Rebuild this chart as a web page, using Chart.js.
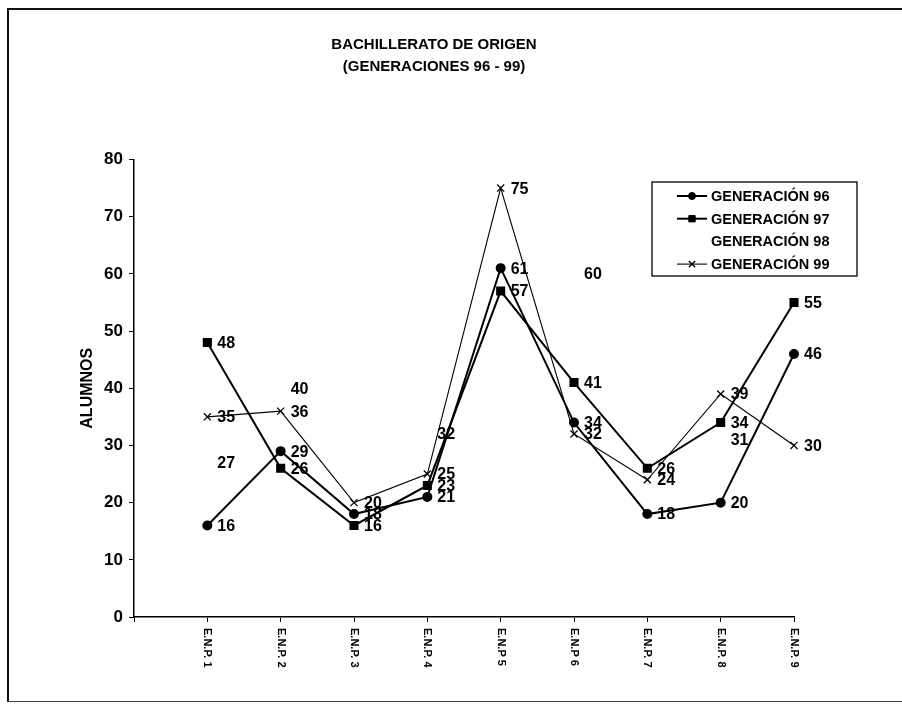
<!DOCTYPE html>
<html>
<head>
<meta charset="utf-8">
<script src="https://cdn.jsdelivr.net/npm/chart.js@4"></script>
<style>
  body { margin: 0; background: #fff; }
  #frame { position: absolute; left: 7px; top: 8px; width: 900px; height: 691px;
           border-left: 2px solid #111; border-top: 2px solid #111; border-bottom: 1px solid #444; }
  #c { position: absolute; left: 0; top: 0; }
</style>
</head>
<body>
<div id="frame"></div>
<canvas id="c" width="902" height="706"></canvas>
<script>
var categories = ['E.N.P. 1', 'E.N.P. 2', 'E.N.P. 3', 'E.N.P. 4', 'E.N.P 5', 'E.N.P 6', 'E.N.P. 7', 'E.N.P. 8', 'E.N.P. 9'];
var seriesNames = ['GENERACIÓN 96', 'GENERACIÓN 97', 'GENERACIÓN 98', 'GENERACIÓN 99'];
var gen96 = [16, 29, 18, 21, 61, 34, 18, 20, 46];
var gen97 = [48, 26, 16, 23, 57, 41, 26, 34, 55];
var gen98 = [27, 40, null, 32, null, 60, null, 31, null];
var gen99 = [35, 36, 20, 25, 75, 32, 24, 39, 30];
var yTicks = [0, 10, 20, 30, 40, 50, 60, 70, 80];

var FONT = '"Liberation Sans", Arial, sans-serif';

function pts(arr) {
    return arr.map(function (v, i) { return { x: i + 1, y: v }; });
}

// numbers next to each point
var valueLabels = {
    id: 'valueLabels',
    afterDatasetsDraw: function (chart) {
        var ctx = chart.ctx;
        ctx.save();
        ctx.font = 'bold 16px ' + FONT;
        ctx.fillStyle = '#000';
        ctx.textAlign = 'left';
        ctx.textBaseline = 'middle';
        chart.data.datasets.forEach(function (ds, di) {
            var meta = chart.getDatasetMeta(di);
            meta.data.forEach(function (el, i) {
                var v = ds.data[i].y;
                if (v === null) return;
                ctx.fillText(String(v), el.x + 10, el.y + 1);
            });
        });
        ctx.restore();
    }
};

// category names, rotated clockwise under the axis
var catLabels = {
    id: 'catLabels',
    afterDraw: function (chart) {
        var ctx = chart.ctx;
        var xs = chart.scales.x;
        ctx.save();
        ctx.font = 'bold 11px ' + FONT;
        ctx.fillStyle = '#000';
        ctx.textAlign = 'left';
        ctx.textBaseline = 'middle';
        categories.forEach(function (c, i) {
            var x = xs.getPixelForValue(i + 1);
            ctx.save();
            ctx.translate(x, chart.chartArea.bottom + 11);
            ctx.rotate(Math.PI / 2);
            ctx.fillText(c, 0, 0);
            ctx.restore();
        });
        ctx.restore();
    }
};

// boxed legend inside the plot
var boxLegend = {
    id: 'boxLegend',
    afterDraw: function (chart) {
        var ctx = chart.ctx;
        var bx = 652, by = 182, bw = 205, bh = 94;
        ctx.save();
        ctx.strokeStyle = '#000';
        ctx.lineWidth = 1.3;
        ctx.fillStyle = '#fff';
        ctx.fillRect(bx, by, bw, bh);
        ctx.strokeRect(bx, by, bw, bh);
        ctx.font = 'bold 14.5px ' + FONT;
        ctx.textAlign = 'left';
        ctx.textBaseline = 'middle';
        chart.data.datasets.forEach(function (ds, i) {
            var y = 196 + i * 22.7;
            if (ds.showLine !== false) {
                ctx.strokeStyle = '#000';
                ctx.fillStyle = '#000';
                ctx.lineWidth = ds.borderWidth;
                ctx.beginPath();
                ctx.moveTo(677, y);
                ctx.lineTo(707, y);
                ctx.stroke();
                ctx.lineWidth = ds.pointBorderWidth || 1;
                Chart.helpers.drawPoint(ctx, {
                    pointStyle: ds.pointStyle,
                    radius: ds.pointRadius - 0.5,
                    borderWidth: ds.pointBorderWidth || 1,
                    rotation: 0
                }, 692, y);
            }
            ctx.fillStyle = '#000';
            ctx.fillText(ds.label, 711, y + 1);
        });
        ctx.restore();
    }
};

var ctx = document.getElementById('c').getContext('2d');
new Chart(ctx, {
    type: 'line',
    data: {
        datasets: [
            {
                label: seriesNames[0],
                data: pts(gen96),
                borderColor: '#000',
                backgroundColor: '#000',
                borderWidth: 2,
                pointStyle: 'circle',
                pointRadius: 4,
                pointBackgroundColor: '#000',
                pointBorderColor: '#000',
                clip: false
            },
            {
                label: seriesNames[1],
                data: pts(gen97),
                borderColor: '#000',
                backgroundColor: '#000',
                borderWidth: 2,
                pointStyle: 'rect',
                pointRadius: 5,
                pointBackgroundColor: '#000',
                pointBorderColor: '#000',
                clip: false
            },
            {
                label: seriesNames[2],
                data: pts(gen98),
                showLine: false,
                pointRadius: 0,
                borderColor: 'rgba(0,0,0,0)',
                clip: false
            },
            {
                label: seriesNames[3],
                data: pts(gen99),
                borderColor: '#000',
                backgroundColor: '#000',
                borderWidth: 1.1,
                pointStyle: 'crossRot',
                pointRadius: 5,
                pointBorderWidth: 1.3,
                pointBorderColor: '#000',
                clip: false
            }
        ]
    },
    options: {
        responsive: false,
        animation: false,
        layout: { padding: { left: 74, right: 108, top: 0, bottom: 0 } },
        elements: { line: { tension: 0 } },
        plugins: {
            legend: { display: false },
            tooltip: { enabled: false },
            title: {
                display: true,
                text: ['BACHILLERATO DE ORIGEN', '(GENERACIONES 96 - 99)'],
                color: '#000',
                font: { family: FONT, size: 15, weight: 'bold', lineHeight: 1.45 },
                padding: { top: 34, bottom: 82 }
            }
        },
        scales: {
            x: {
                type: 'linear',
                min: 0,
                max: 9,
                ticks: { stepSize: 1, display: false },
                grid: { drawOnChartArea: false, drawTicks: true, tickLength: 5, color: '#000' },
                border: { color: '#000', width: 1.5 },
                afterFit: function (s) { s.height = 89; }
            },
            y: {
                min: 0,
                max: 80,
                afterBuildTicks: function (s) {
                    s.ticks = yTicks.map(function (v) { return { value: v }; });
                },
                ticks: {
                    color: '#000',
                    padding: 6,
                    font: { family: FONT, size: 17, weight: 'bold' }
                },
                grid: { drawOnChartArea: false, drawTicks: true, tickLength: 5, color: '#000' },
                border: { color: '#000', width: 1.5 },
                title: {
                    display: true,
                    text: 'ALUMNOS',
                    color: '#000',
                    font: { family: FONT, size: 16, weight: 'bold' }
                },
                afterFit: function (s) { s.width = 60; }
            }
        }
    },
    plugins: [valueLabels, catLabels, boxLegend]
});
</script>
</body>
</html>
